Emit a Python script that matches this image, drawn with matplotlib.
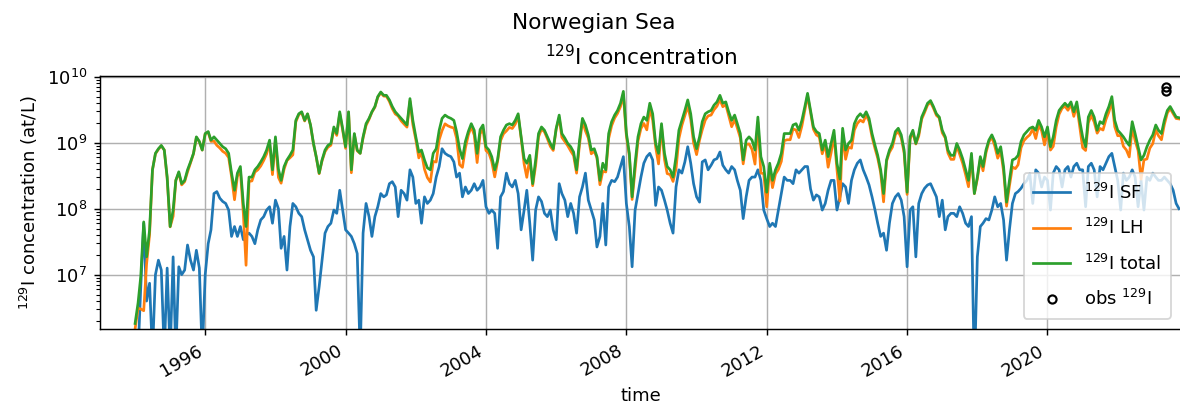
import numpy as np
import pandas as pd
import matplotlib
matplotlib.use("Agg")
import matplotlib.pyplot as plt
import matplotlib.dates as mdates

# Monthly model concentrations of 129I (log10 of at/L), Jan 1994 .. Oct 2023
total_log10 = [
    6.26, 6.57, 6.97, 7.80, 7.27, 7.68, 8.59, 8.84, 8.91, 8.96, 8.89, 8.48,  # 1994
    7.73, 7.98, 8.43, 8.56, 8.38, 8.43, 8.59, 8.71, 8.84, 9.09, 9.02, 8.89,  # 1995
    9.14, 9.17, 9.04, 9.09, 9.04, 8.99, 8.94, 8.91, 8.84, 8.54, 8.28, 8.54,  # 1996
    8.64, 8.07, 7.73, 8.48, 8.48, 8.59, 8.64, 8.71, 8.79, 8.89, 9.04, 8.59,  # 1997
    9.09, 8.60, 8.43, 8.64, 8.74, 8.81, 8.89, 9.34, 9.44, 9.47, 9.34, 9.44,  # 1998
    9.27, 8.99, 8.79, 8.54, 8.74, 8.89, 8.96, 8.99, 9.24, 9.14, 9.47, 9.22,  # 1999
    8.94, 9.47, 8.59, 9.14, 8.89, 8.84, 9.09, 9.29, 9.37, 9.47, 9.55, 9.70,  # 2000
    9.77, 9.72, 9.72, 9.65, 9.55, 9.47, 9.42, 9.37, 9.32, 9.27, 9.67, 9.34,  # 2001
    9.09, 8.86, 8.89, 8.74, 8.62, 8.59, 8.84, 8.91, 9.19, 9.37, 9.42, 9.39,  # 2002
    9.37, 9.34, 9.17, 8.91, 8.76, 9.02, 9.17, 9.29, 9.19, 8.84, 9.20, 9.27,  # 2003
    8.94, 8.89, 8.79, 8.59, 8.74, 9.09, 9.19, 9.27, 9.29, 9.27, 9.34, 9.44,  # 2004
    9.09, 8.76, 8.69, 8.81, 8.38, 8.74, 9.14, 9.24, 9.19, 9.09, 8.99, 8.91,  # 2005
    9.22, 9.42, 9.14, 9.07, 8.99, 8.94, 8.86, 8.59, 9.04, 9.37, 9.27, 9.12,  # 2006
    8.89, 8.91, 8.79, 8.43, 8.69, 8.59, 9.14, 9.32, 9.42, 9.49, 9.60, 9.78,  # 2007
    9.15, 8.84, 8.18, 8.69, 9.09, 9.29, 9.39, 9.34, 9.60, 9.44, 8.99, 8.84,  # 2008
    9.29, 8.84, 8.64, 8.59, 8.48, 8.79, 9.19, 9.34, 9.49, 9.65, 9.44, 9.09,  # 2009
    8.91, 9.09, 9.32, 9.44, 9.47, 9.49, 9.57, 9.62, 9.72, 9.60, 9.62, 9.47,  # 2010
    9.34, 9.42, 9.29, 9.14, 8.74, 9.04, 9.09, 9.04, 8.89, 9.39, 8.79, 8.64,  # 2011
    8.25, 8.69, 8.43, 8.59, 8.69, 8.84, 9.14, 9.14, 9.14, 9.27, 9.29, 9.19,  # 2012
    9.34, 9.55, 9.75, 9.49, 9.24, 9.17, 9.14, 8.89, 9.04, 8.79, 8.99, 9.19,  # 2013
    8.69, 8.45, 9.22, 8.89, 8.99, 9.04, 9.29, 9.39, 9.44, 9.39, 9.47, 9.37,  # 2014
    9.14, 8.96, 8.81, 8.59, 8.23, 8.74, 8.89, 8.99, 9.17, 9.22, 9.12, 8.89,  # 2015
    8.25, 9.09, 9.19, 8.99, 9.14, 9.39, 9.49, 9.60, 9.64, 9.55, 9.44, 9.39,  # 2016
    9.19, 9.09, 8.89, 8.81, 8.81, 8.99, 8.89, 8.76, 8.59, 8.43, 8.84, 8.23,  # 2017
    8.48, 8.79, 8.64, 8.89, 9.04, 9.12, 9.02, 8.84, 8.94, 8.64, 8.10, 8.43,  # 2018
    8.74, 8.76, 8.81, 9.02, 9.12, 9.17, 9.22, 9.24, 9.19, 9.34, 9.24, 9.09,  # 2019
    9.24, 8.94, 9.09, 9.34, 9.49, 9.55, 9.60, 9.55, 9.62, 9.47, 9.62, 9.34,  # 2020
    9.09, 8.94, 9.39, 9.49, 9.39, 9.19, 9.32, 9.29, 9.44, 9.55, 9.70, 9.34,  # 2021
    9.19, 9.14, 9.09, 9.02, 8.96, 9.32, 9.14, 8.94, 8.74, 8.81, 8.94, 9.04,  # 2022
    9.12, 9.27, 9.19, 9.14, 9.34, 9.49, 9.55, 9.47, 9.39, 9.38,              # 2023
]

sf_log10 = [
    5.50, 5.80, 6.80, 7.78, 6.60, 6.87, 5.80, 7.00, 7.22, 7.07, 5.80, 7.10,  # 1994
    5.80, 7.27, 5.80, 7.12, 7.00, 7.07, 7.45, 7.22, 7.07, 7.37, 7.10, 5.80,  # 1995
    7.00, 7.47, 7.68, 8.23, 8.26, 8.16, 8.11, 8.08, 7.98, 7.58, 7.73, 7.58,  # 1996
    7.73, 7.53, 7.60, 7.63, 7.58, 7.47, 7.68, 7.83, 7.88, 7.98, 8.03, 7.78,  # 1997
    8.13, 8.00, 7.40, 7.58, 7.07, 7.73, 8.08, 8.03, 7.93, 7.88, 7.68, 7.53,  # 1998
    7.37, 7.27, 6.46, 6.82, 7.22, 7.63, 7.73, 7.78, 7.98, 7.93, 8.28, 7.98,  # 1999
    7.68, 7.63, 7.58, 7.47, 7.32, 5.80, 7.63, 8.08, 7.88, 7.58, 7.88, 8.03,  # 2000
    8.23, 8.18, 8.21, 8.38, 8.41, 8.33, 7.88, 8.28, 8.23, 8.13, 8.59, 8.48,  # 2001
    8.08, 8.13, 7.78, 8.18, 8.08, 8.13, 8.23, 8.48, 8.64, 8.91, 8.84, 8.81,  # 2002
    8.79, 8.71, 8.48, 8.54, 8.18, 8.33, 8.23, 8.28, 8.38, 8.28, 8.33, 8.43,  # 2003
    8.03, 7.93, 7.98, 7.93, 7.40, 8.18, 8.26, 8.54, 8.38, 8.33, 8.43, 8.23,  # 2004
    7.68, 7.98, 8.28, 7.78, 7.22, 7.98, 8.18, 8.11, 7.93, 7.88, 7.98, 7.68,  # 2005
    7.53, 8.38, 8.23, 8.13, 7.88, 8.08, 7.93, 7.63, 8.18, 8.33, 8.54, 8.13,  # 2006
    7.98, 7.83, 7.42, 7.58, 8.08, 7.45, 8.33, 8.43, 8.41, 8.48, 8.64, 8.79,  # 2007
    8.08, 7.73, 7.12, 7.98, 8.23, 8.48, 8.69, 8.79, 8.84, 8.74, 8.05, 8.33,  # 2008
    8.28, 8.13, 7.98, 7.78, 7.63, 8.33, 8.59, 8.54, 8.71, 8.94, 8.69, 8.38,  # 2009
    8.18, 8.10, 8.71, 8.74, 8.59, 8.66, 8.74, 8.76, 8.86, 8.66, 8.59, 8.54,  # 2010
    8.64, 8.59, 8.43, 8.28, 7.85, 8.18, 8.43, 8.48, 8.48, 8.59, 8.43, 7.98,  # 2011
    7.85, 7.73, 7.78, 7.73, 7.98, 8.23, 8.48, 8.43, 8.43, 8.38, 8.59, 8.54,  # 2012
    8.59, 8.64, 8.64, 8.30, 8.13, 8.21, 8.18, 7.98, 8.08, 8.28, 8.43, 8.43,  # 2013
    7.98, 8.18, 8.38, 8.33, 8.08, 8.43, 8.59, 8.69, 8.74, 8.59, 8.48, 8.36,  # 2014
    8.18, 7.98, 7.78, 7.58, 7.63, 7.37, 7.78, 8.08, 8.18, 8.23, 8.13, 7.88,  # 2015
    7.12, 7.98, 8.03, 7.27, 8.08, 8.23, 8.31, 8.36, 8.38, 8.28, 8.18, 7.88,  # 2016
    8.13, 7.68, 7.88, 7.93, 7.93, 7.88, 8.03, 7.93, 7.78, 7.73, 7.88, 5.50,  # 2017
    7.27, 7.73, 7.78, 7.85, 7.83, 7.98, 8.18, 8.03, 8.08, 7.83, 7.22, 7.68,  # 2018
    8.08, 8.23, 8.26, 8.31, 8.38, 8.43, 8.53, 8.08, 8.59, 8.54, 8.33, 8.48,  # 2019
    8.43, 7.98, 8.54, 8.64, 8.59, 8.33, 8.59, 8.64, 8.48, 8.64, 8.69, 8.59,  # 2020
    8.59, 8.03, 8.64, 8.69, 8.59, 8.18, 8.64, 8.59, 8.69, 8.79, 8.84, 8.64,  # 2021
    8.43, 7.98, 8.54, 8.43, 8.48, 8.59, 8.48, 8.03, 8.43, 7.98, 8.48, 8.43,  # 2022
    8.54, 8.48, 8.43, 8.43, 8.48, 8.43, 8.38, 8.28, 8.08, 8.00,              # 2023
]

# Observations
obs_dates = ["2023-05-20", "2023-05-20"]
obs_values = [6.9e9, 6.2e9]

time = pd.date_range("1994-01-01", periods=len(total_log10), freq="MS")
total = 10.0 ** np.array(total_log10)
sf = 10.0 ** np.array(sf_log10)
# LH contribution is what remains of the total after the SF part
lh = np.clip(total - sf, 1e4, None)

W, H, DPI = 1180, 408, 130
fig = plt.figure(figsize=(W / DPI, H / DPI), dpi=DPI)
ax = fig.add_axes([100 / W, (H - 329) / H, (1182 - 100) / W, (329 - 76) / H])

ax.plot(time, sf, color="C0", label="$^{129}$I SF")
ax.plot(time, lh, color="C1", label="$^{129}$I LH")
ax.plot(time, total, color="C2", label="$^{129}$I total")
ax.plot(pd.to_datetime(obs_dates), obs_values, linestyle="none", marker="o",
        markersize=4.5, markerfacecolor="none", markeredgecolor="k",
        markeredgewidth=1.2, label="obs $^{129}$I")

ax.set_yscale("log")
ax.set_ylim(1.5e6, 1.03e10)
ax.set_xlim(pd.Timestamp("1993-01-01"), pd.Timestamp("2023-11-01"))
ax.xaxis.set_major_locator(mdates.YearLocator(4))
ax.xaxis.set_major_formatter(mdates.DateFormatter("%Y"))
plt.setp(ax.get_xticklabels(), rotation=30, ha="right")
ax.grid(True)

ax.set_xlabel("time")
ax.set_ylabel("$^{129}$I concentration (at/L)")
ax.set_title("$^{129}$I concentration")
fig.suptitle("Norwegian Sea", x=0.503, y=1 - 29 / H, va="baseline")

ax.legend(loc="lower right", bbox_to_anchor=(1171 / W, (H - 319) / H),
          bbox_transform=fig.transFigure, borderaxespad=0,
          labelspacing=0.85, borderpad=0.55)

fig.savefig("out.png", dpi=DPI)
